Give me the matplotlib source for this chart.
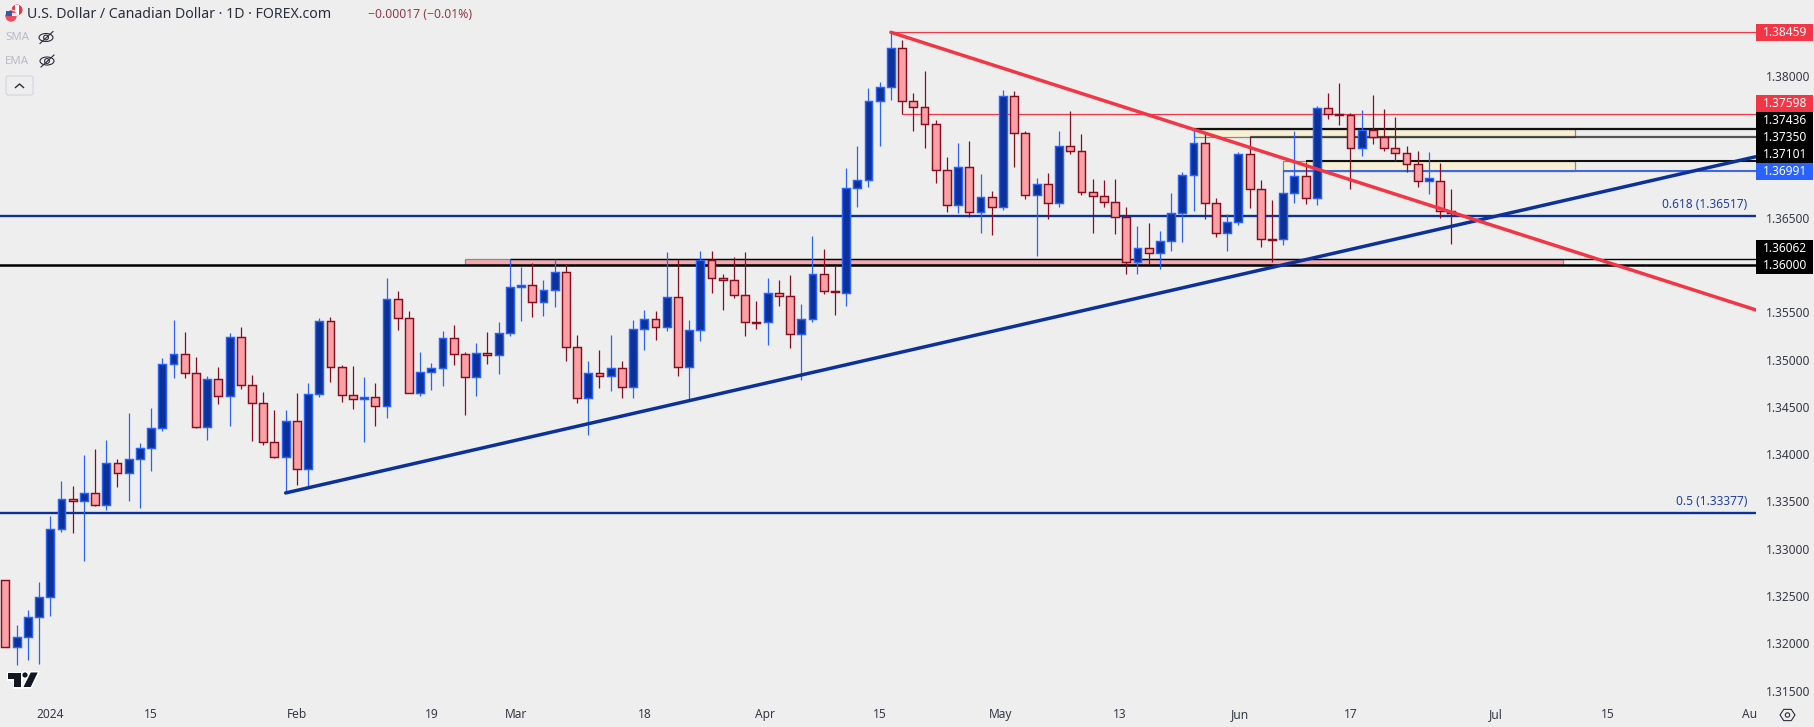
import numpy as np
import matplotlib
matplotlib.use("Agg")
import matplotlib.pyplot as plt
from matplotlib.patches import Rectangle, Circle, Polygon, Ellipse, FancyBboxPatch

plt.rcParams['font.family'] = ['Noto Sans', 'DejaVu Sans']

# --- prices, in 1e-5 units
OPEN = [132667,131959,132071,132283,132494,133206,133523,133502,133593,133466,133903,133805,133946,134062,134273,134950,135055,134862,134291,134791,134611,135235,134735,134537,134132,
133974,134347,133847,134633,135404,134918,134622,134580,134608,134506,135637,135436,134643,134865,134907,135225,135056,134813,135066,135045,135278,135764,135785,135605,135732,
135922,135130,134591,134855,134823,134908,134707,135320,135426,135341,135658,134918,135309,136049,135859,135838,135679,135397,135394,135700,135669,135267,135426,135901,135725,
135707,136810,136894,137729,137877,138290,137729,137666,137486,137000,136630,137032,136563,136715,136609,137782,137391,136736,136852,136651,137254,137201,136768,136725,136662,
136503,136028,136176,136123,136250,136546,136947,137285,136651,136334,136450,137169,136799,136275,136271,136757,136936,136704,137655,137596,137581,137232,137423,137349,137232,
137180,137063,136884,136884,136567]
HIGH = [132667,132195,132353,132649,133347,133717,133664,133991,134055,134150,133949,134435,134118,134488,135017,135418,135291,135027,134826,134921,135281,135344,134837,134657,134467,
134467,134647,134752,135436,135450,134943,134932,134816,134752,135862,135725,135513,135080,134964,135302,135366,135077,135175,135292,135397,136063,135979,136021,135841,136063,
136010,135260,134985,135101,135260,134985,135418,135524,135514,136137,136060,135418,136148,136148,135905,136084,136137,135619,135862,135841,135894,135588,136306,136169,135989,
137025,137257,137870,137934,138466,138378,137817,138050,137532,137141,137289,137310,136961,136782,137849,137839,137416,136919,136972,137416,137627,137384,136909,136898,136909,
136613,136412,136444,136359,136761,136983,137444,137384,136708,136538,137194,137352,136898,136686,137003,137416,137088,137680,137817,137923,137606,137638,137796,137648,137564,
137257,137204,137194,137077,136803]
LOW = [131959,131772,131825,131786,132290,133178,133167,132871,133452,133410,133653,133505,133431,133822,134245,134805,134805,134277,134150,134530,134298,134689,134139,134097,133960,
133590,133674,133660,134604,134763,134552,134478,134129,134298,134382,135312,134643,134615,134678,134721,134943,134414,134615,134953,134848,135249,135408,135450,135461,135556,
134985,134541,134203,134700,134668,134594,134594,135101,135207,135302,134827,134559,135197,135704,135524,135651,135249,135323,135154,135566,135123,134784,135397,135693,135471,
135566,136613,136824,137257,137743,137592,137416,137236,136866,136560,136549,136510,136338,136317,136581,137035,136697,136095,136486,136613,137173,136739,136338,136613,136327,
135904,135904,136007,135957,136148,136243,136570,136486,136296,136147,136422,136602,136190,136031,136211,136655,136644,136633,137542,137479,136803,137151,137278,137204,137099,
136982,136824,136750,136496,136221]
CLOSE = [131959,132071,132283,132494,133206,133523,133502,133593,133466,133903,133805,133946,134062,134273,134950,135055,134862,134291,134791,134611,135235,134735,134537,134132,133974,
134347,133847,134633,135404,134918,134622,134580,134608,134506,135637,135436,134643,134865,134907,135224,135056,134813,135066,135045,135278,135764,135785,135605,135732,135922,
135130,134591,134855,134823,134908,134707,135320,135426,135341,135658,134918,135309,136049,135859,135838,135679,135394,135390,135700,135669,135267,135426,135901,135721,135715,
136810,136894,137729,137877,138290,137729,137666,137486,137000,136630,137032,136563,136715,136609,137782,137391,136736,136852,136651,137254,137201,136768,136725,136662,136503,
136028,136176,136123,136250,136546,136947,137285,136651,136334,136450,137169,136799,136271,136268,136757,136936,136704,137655,137592,137588,137232,137423,137349,137232,137180,
137063,136884,136915,136567,136549]

ZONE_RED = (1.36000, 1.36062)
ZONE_YELLOW_A = (1.37350, 1.37436)
ZONE_YELLOW_B = (1.36991, 1.37101)
RED_LEVELS = [1.38459, 1.37598]
FIB_LEVELS = [1.36517, 1.33377]
FIB_LABELS = ["0.618 (1.36517)", "0.5 (1.33377)"]
SUPPORT_X, SUPPORT_Y = [25, 156.18], [1.33590, 1.37144]
RESIST_X, RESIST_Y = [79, 156.18], [1.38459, 1.35524]

YTICKS = [1.380, 1.365, 1.355, 1.350, 1.345, 1.340, 1.335, 1.330, 1.325, 1.320, 1.315]
XTICKS = [4, 13, 26, 38, 45.6, 57, 67.8, 78, 88.8, 99.4, 110.1, 120, 133, 143, 155.6]
XLABELS = ["2024", "15", "Feb", "19", "Mar", "18", "Apr", "15", "May", "13", "Jun", "17", "Jul", "15", "Au"]

W, H = 1814, 727
BG = "#eeeeee"
fig = plt.figure(figsize=(W/100, H/100), dpi=100, facecolor=BG)
PANE_R, PANE_B = 1756, 703
ax = fig.add_axes([0, (H-PANE_B)/H, PANE_R/W, PANE_B/H], facecolor=BG)
ax.set_xlim(-0.482, 156.18)
ax.set_ylim(1.31370, 1.38800)
for s in ax.spines.values():
    s.set_visible(False)

o, h, l, c = [np.array(a)/1e5 for a in (OPEN, HIGH, LOW, CLOSE)]
idx = np.arange(len(o))
up = c > o

UP_FILL, UP_EDGE = "#0c3299", "#2962ff"
DN_FILL, DN_EDGE = "#f9a1a6", "#880e1f"

# zones (below candles)
def zone(x0, x1, lo, hi, fc):
    ax.add_patch(Rectangle((x0, lo), x1-x0, hi-lo, facecolor=fc, edgecolor="#8a8a8a", lw=0.9, zorder=1))
zone(41, 139, *ZONE_RED, "#f4a9b0")
zone(106, 140, *ZONE_YELLOW_A, "#f7f0d5")
zone(114, 140, *ZONE_YELLOW_B, "#f7f0d5")

xr = 156.18
# horizontal lines
ax.plot([-1, xr], [ZONE_RED[0]]*2, color="black", lw=1.8, zorder=2, solid_capstyle="butt")
ax.plot([45, xr], [ZONE_RED[1]]*2, color="black", lw=1.0, zorder=2, solid_capstyle="butt")
ax.plot([106, xr], [ZONE_YELLOW_A[1]]*2, color="#111111", lw=1.6, zorder=2, solid_capstyle="butt")
ax.plot([111, xr], [ZONE_YELLOW_A[0]]*2, color="#222222", lw=1.6, alpha=.75, zorder=2, solid_capstyle="butt")
ax.plot([116, xr], [ZONE_YELLOW_B[1]]*2, color="#111111", lw=1.5, zorder=2, solid_capstyle="butt")
ax.plot([114, xr], [ZONE_YELLOW_B[0]]*2, color="#3f68e0", lw=1.5, zorder=2, solid_capstyle="butt")
for lev, start in zip(RED_LEVELS, [79, 80]):
    ax.plot([start, xr], [lev, lev], color="#f23645", lw=0.9, zorder=2, solid_capstyle="butt")
for lev in FIB_LEVELS:
    ax.plot([-1, xr], [lev, lev], color="#0c3299", lw=1.7, zorder=2, solid_capstyle="butt")

# candles
ax.vlines(idx[up], l[up], h[up], color=UP_EDGE, lw=0.9, zorder=3)
ax.vlines(idx[~up], l[~up], h[~up], color=DN_EDGE, lw=0.9, zorder=3)
bottom = np.minimum(o, c)
height = np.abs(c-o)
ax.bar(idx[up], height[up], 0.70, bottom[up], facecolor=UP_FILL, edgecolor=UP_EDGE, lw=1.05, zorder=4)
ax.bar(idx[~up], height[~up], 0.70, bottom[~up], facecolor=DN_FILL, edgecolor=DN_EDGE, lw=1.05, zorder=4)

# trendlines
ax.plot(SUPPORT_X, SUPPORT_Y, color="#0c3299", lw=2.5, zorder=5, solid_capstyle="round")
ax.plot(RESIST_X, RESIST_Y, color="#f23645", lw=2.5, zorder=5, solid_capstyle="round")

# axes ticks
ax.yaxis.tick_right()
ax.set_yticks(YTICKS)
ax.set_yticklabels([f"{v:.5f}" for v in YTICKS], fontsize=8.6, color="#363a45")
ax.tick_params(axis="y", length=0, pad=7)
ax.set_xticks(XTICKS)
ax.set_xticklabels(XLABELS, fontsize=8.6, color="#363a45")
ax.tick_params(axis="x", length=0, pad=3.5)

# overlay in pixel space
ov = fig.add_axes([0, 0, 1, 1], facecolor="none")
ov.set_xlim(0, W); ov.set_ylim(H, 0); ov.axis("off")

# fib labels
def price_y(p):
    return ov.transData.inverted().transform(ax.transData.transform((0, p)))[1]
for lev, lab in zip(FIB_LEVELS, FIB_LABELS):
    ov.text(1747, price_y(lev)-12, lab, ha="right", va="center", fontsize=8.6, color="#23409f")

# price tags
def tag(y0, y1, bg, txt, yc):
    ov.add_patch(Rectangle((1756, y0), 57, y1-y0, facecolor=bg, edgecolor="none", zorder=6))
    ov.text(1807, yc, txt, ha="right", va="center", fontsize=8.6, color="white", fontweight="semibold", zorder=7)
tag(24.3, 41, "#f23645", "1.38459", 32.5)
tag(95, 111.7, "#f23645", "1.37598", 103.5)
tag(111.7, 163, "black", "1.37436", 120.5)
ov.text(1807, 137.7, "1.37350", ha="right", va="center", fontsize=8.6, color="white", fontweight="semibold", zorder=7)
ov.text(1807, 154.7, "1.37101", ha="right", va="center", fontsize=8.6, color="white", fontweight="semibold", zorder=7)
tag(163, 179.5, "#2962ff", "1.36991", 171.5)
tag(240, 273.5, "black", "1.36062", 248.5)
ov.text(1807, 265.7, "1.36000", ha="right", va="center", fontsize=8.6, color="white", fontweight="semibold", zorder=7)

# header
ov.text(27, 14, "U.S. Dollar / Canadian Dollar · 1D · FOREX.com", ha="left", va="center", fontsize=10.2, color="#2a2e39")
ov.text(368, 14, "−0.00017 (−0.01%)", ha="left", va="center", fontsize=8.8, color="#8f3d48")
ov.text(5, 38, "SMA", ha="left", va="center", fontsize=8.2, color="#b8bbc6")
ov.text(5, 62, "EMA", ha="left", va="center", fontsize=8.2, color="#b8bbc6")

# flags
ov.add_patch(Circle((17, 10), 6, facecolor="#e8394b", edgecolor="white", lw=0.6, zorder=2))
ov.add_patch(Rectangle((15, 5), 4, 10, facecolor="white", edgecolor="none", zorder=3))
ov.add_patch(Circle((11, 16), 6.2, facecolor="#e85060", edgecolor="white", lw=0.6, zorder=4))
ov.add_patch(Rectangle((6, 13), 11, 3, facecolor="#f2f2f2", edgecolor="none", zorder=5))
ov.add_patch(Rectangle((6, 10.5), 5.5, 5.5, facecolor="#2f5bb0", edgecolor="none", zorder=6))

# eyes
for ex, ey in [(46, 37.5), (47, 61)]:
    ov.add_patch(Ellipse((ex, ey), 14, 8, facecolor="none", edgecolor="#2a2e39", lw=0.8))
    ov.add_patch(Circle((ex, ey), 2.4, facecolor="none", edgecolor="#2a2e39", lw=0.8))
    ov.plot([ex-6, ex+7], [ey+6, ey-6], color="#2a2e39", lw=0.8)

# collapse button
ov.add_patch(FancyBboxPatch((6, 76), 27, 19, boxstyle="round,pad=0,rounding_size=2", facecolor=BG, edgecolor="#d3d5dc", lw=0.8))
ov.plot([15.5, 19.5, 23.5], [87.5, 84, 87.5], color="#2a2e39", lw=1.0)

# logo
INK = "#131722"
for halo, kw in [(True, dict(facecolor="white", edgecolor="white", lw=2.2)), (False, dict(facecolor=INK, edgecolor="none"))]:
    ov.add_patch(Polygon([(8, 672.5), (20.7, 672.5), (20.7, 687), (14, 687), (14, 678.5), (8, 678.5)], closed=True, **kw))
    ov.add_patch(Circle((25, 675), 2.6, **kw))
    ov.add_patch(Polygon([(30.7, 672.5), (37.7, 672.5), (30.7, 687), (23.5, 687)], closed=True, **kw))

# settings gear
th = np.deg2rad(np.arange(0, 360, 60))
ov.add_patch(Polygon(np.c_[1787.5 + 7.5*np.cos(th), 715 + 6.5*np.sin(th)], closed=True, facecolor="none", edgecolor="#2a2e39", lw=0.8))
ov.add_patch(Circle((1787.5, 715), 2.2, facecolor="none", edgecolor="#2a2e39", lw=0.8))

fig.savefig("out.png", dpi=100, facecolor=BG)
